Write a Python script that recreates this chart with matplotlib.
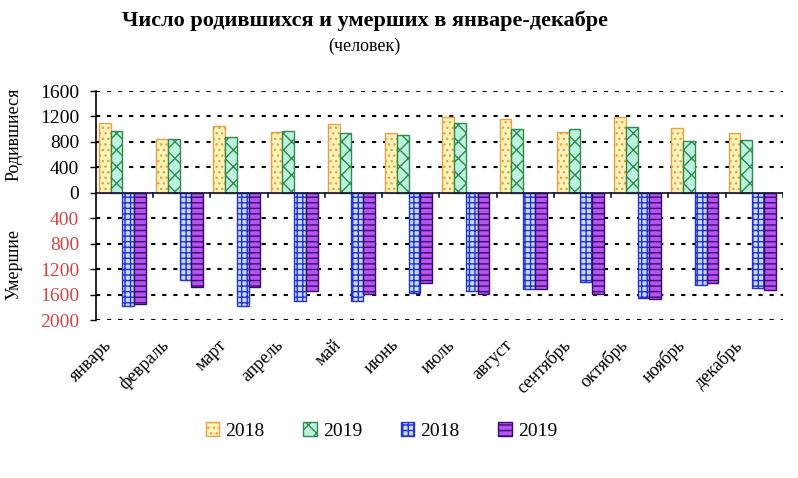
import numpy as np
import matplotlib
matplotlib.use("Agg")
from matplotlib import pyplot as plt
from matplotlib.patches import Patch

# Months (categories)
months = ["январь", "февраль", "март", "апрель", "май", "июнь",
          "июль", "август", "сентябрь", "октябрь", "ноябрь", "декабрь"]

# Born, persons
born_2018 = [1090, 853, 1047, 963, 1089, 947, 1184, 1158, 963, 1184, 1026, 947]
born_2019 = [974, 853, 884, 968, 947, 911, 1095, 1000, 1000, 1037, 816, 837]

# Died, persons
died_2018 = [1774, 1368, 1774, 1700, 1695, 1579, 1542, 1516, 1405, 1647, 1447, 1500]
died_2019 = [1753, 1484, 1484, 1537, 1595, 1421, 1595, 1505, 1595, 1668, 1421, 1526]

yticks = [1600, 1200, 800, 400, 0, -400, -800, -1200, -1600, -2000]

plt.rcParams['font.family'] = ['Liberation Serif', 'DejaVu Serif']
plt.rcParams['hatch.linewidth'] = 1.0

fig = plt.figure(figsize=(7.98, 4.78), dpi=100)
ax = fig.add_axes([0.1203, 0.3305, 0.8609, 0.4791])

x = np.arange(len(months))
w = 0.205
# left edges of the four bars inside a category
offs = [-0.45, -0.245, -0.04, 0.165]

# colours: fill, edge, hatch
styles = [
    ("#FFF4B8", "#E8A048", "..."),
    ("#BDF2DC", "#2E8B4E", "xx"),
    ("#C6D8FF", "#2233CC", "+++"),
    ("#B455F2", "#3A0A6A", "---"),
]
series = [born_2018, born_2019, [-v for v in died_2018], [-v for v in died_2019]]

for k, vals in enumerate(series):
    fc, ec, h = styles[k]
    ax.bar(x + offs[k], vals, width=w, align='edge', color=fc,
           edgecolor=ec, hatch=h, linewidth=1.0, zorder=3)

ax.set_xlim(-0.5, 11.5)
ax.set_ylim(-2000, 1600)

# dotted grid
for v in yticks:
    if v != 0:
        ax.axhline(v, color='black', linewidth=1.5, linestyle=(0, (2, 3.3)), zorder=1)
ax.axhline(0, color='#111133', linewidth=1.2, zorder=4)

# category separator ticks below zero line
for b in np.arange(0.5, 11.6, 1.0):
    ax.plot([b, b], [0, -70], color='#111133', linewidth=1.2, zorder=4)

ax.set_yticks(yticks)
ax.set_yticklabels([str(abs(v)) for v in yticks], fontsize=14)
for lbl, v in zip(ax.get_yticklabels(), yticks):
    lbl.set_color('black' if v >= 0 else '#D04545')
ax.tick_params(axis='y', direction='out', length=4, width=1, pad=8)
ax.set_xticks([])

for s in ['top', 'right', 'bottom']:
    ax.spines[s].set_visible(False)
ax.spines['left'].set_linewidth(1.2)

# month labels
for i, m in enumerate(months):
    ax.text(i - 0.37, -2260, m, rotation=45, ha='right', va='top',
            rotation_mode='anchor', fontsize=13)

fig.text(0.457, 0.957, "Число родившихся и умерших в январе-декабре",
         ha='center', va='center', fontsize=16, fontweight='bold')
fig.text(0.457, 0.904, "(человек)", ha='center', va='center', fontsize=13)

fig.text(0.017, 0.72, "Родившиеся", rotation=90, ha='center', va='center', fontsize=13)
fig.text(0.017, 0.446, "Умершие", rotation=90, ha='center', va='center', fontsize=13)

handles = [Patch(facecolor=fc, edgecolor=ec, hatch=h) for fc, ec, h in styles]
fig.legend(handles, ["2018", "2019", "2018", "2019"], loc='center',
           bbox_to_anchor=(0.478, 0.098), ncol=4, frameon=False, fontsize=14,
           handlelength=0.7, handleheight=0.7, handletextpad=0.3, columnspacing=2.0)

plt.savefig("out.png", dpi=100)
